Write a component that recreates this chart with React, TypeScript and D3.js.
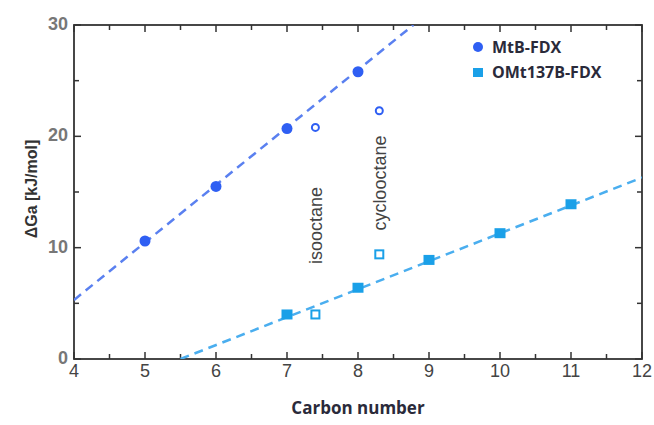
import React from "react";
import * as d3 from "d3";

const xTicks = [4, 5, 6, 7, 8, 9, 10, 11, 12];
const yTicks = [0, 10, 20, 30];

const mtbX = [5, 6, 7, 8];
const mtbY = [10.6, 15.5, 20.7, 25.8];
const mtbOpenX = [7.4, 8.3];
const mtbOpenY = [20.8, 22.3];
const mtbLine = [[4, 5.3], [8.78, 30]];

const omtX = [7, 8, 9, 10, 11];
const omtY = [4.0, 6.4, 8.9, 11.3, 13.9];
const omtOpenX = [7.4, 8.3];
const omtOpenY = [4.0, 9.4];
const omtLine = [[5.5, 0], [12, 16.3]];

const annotations = [
  { text: "isooctane", x: 7.4, y: 12.0 },
  { text: "cyclooctane", x: 8.3, y: 15.8 },
];

const blue = "#2f5ff3";
const blueLine = "#5a80f0";
const cyan = "#1aa0e8";
const cyanLine = "#4aaeef";

export default function App() {
  const W = 654, H = 425;
  const L = 74, R = 642, T = 25, B = 359;
  const x = d3.scaleLinear().domain([4, 12]).range([L, R]);
  const y = d3.scaleLinear().domain([0, 30]).range([B, T]);
  const line = d3.line<number[]>().x((d) => x(d[0])).y((d) => y(d[1]));
  const minorX = d3.range(4, 12.01, 0.5);
  const minorY = d3.range(0, 30.01, 5);
  const axisColor = "#333";
  const font = "Liberation Sans, Arial, sans-serif";

  return (
    <svg width={W} height={H} style={{ position: "absolute", left: 0, top: 0, background: "#fff" }}>
      <defs>
        <clipPath id="plot">
          <rect x={L} y={T} width={R - L} height={B - T} />
        </clipPath>
      </defs>
      <rect x={0} y={0} width={W} height={H} fill="#fff" />
      {minorX.map((v, i) => {
        const len = Number.isInteger(v) ? 7 : 5;
        return (
          <g key={"tx" + i} stroke={axisColor} strokeWidth={1.5}>
            <line x1={x(v)} x2={x(v)} y1={B} y2={B - len} />
            <line x1={x(v)} x2={x(v)} y1={T} y2={T + len} />
          </g>
        );
      })}
      {minorY.map((v, i) => {
        const len = v % 10 === 0 ? 7 : 5;
        return (
          <g key={"ty" + i} stroke={axisColor} strokeWidth={1.5}>
            <line x1={L} x2={L + len} y1={y(v)} y2={y(v)} />
            <line x1={R} x2={R - len} y1={y(v)} y2={y(v)} />
          </g>
        );
      })}
      <rect x={L} y={T} width={R - L} height={B - T} fill="none" stroke={axisColor} strokeWidth={1.8} />
      {xTicks.map((v) => (
        <text key={"xl" + v} x={x(v)} y={B + 18} textAnchor="middle" fontFamily={font} fontSize={18} fill="#444">
          {v}
        </text>
      ))}
      {yTicks.map((v) => (
        <text key={"yl" + v} x={L - 6} y={y(v) + 5} textAnchor="end" fontFamily={font} fontSize={18} fontWeight="bold" fill="#777">
          {v}
        </text>
      ))}
      <g clipPath="url(#plot)">
        <path d={line(mtbLine) || ""} stroke={blueLine} strokeWidth={2.5} strokeDasharray="9,6" fill="none" />
        <path d={line(omtLine) || ""} stroke={cyanLine} strokeWidth={2.5} strokeDasharray="9,6" fill="none" />
      </g>
      {mtbX.map((v, i) => (
        <circle key={"mc" + i} cx={x(v)} cy={y(mtbY[i])} r={5.5} fill={blue} />
      ))}
      {mtbOpenX.map((v, i) => (
        <circle key={"mo" + i} cx={x(v)} cy={y(mtbOpenY[i])} r={3.5} fill="#fff" stroke={blue} strokeWidth={2} />
      ))}
      {omtX.map((v, i) => (
        <rect key={"os" + i} x={x(v) - 5.5} y={y(omtY[i]) - 5} width={11} height={10} fill={cyan} />
      ))}
      {omtOpenX.map((v, i) => (
        <rect key={"oo" + i} x={x(v) - 4} y={y(omtOpenY[i]) - 4} width={8} height={8} fill="#fff" stroke={cyan} strokeWidth={2} />
      ))}
      {annotations.map((a) => (
        <text
          key={a.text}
          transform={`translate(${x(a.x) + 7},${y(a.y)}) rotate(-90)`}
          textAnchor="middle"
          fontFamily={font}
          fontSize={18}
          fill="#444"
        >
          {a.text}
        </text>
      ))}
      <circle cx={478} cy={47} r={5} fill={blue} />
      <text x={492} y={53} fontFamily="Open Sans, sans-serif" fontSize={16} fontWeight="bold" fill="#2a2a3a">MtB-FDX</text>
      <rect x={473} y={68} width={10} height={9} fill={cyan} />
      <text x={492} y={78} fontFamily="Open Sans, sans-serif" fontSize={16} fontWeight="bold" fill="#2a2a3a">OMt137B-FDX</text>
      <text x={(L + R) / 2} y={414} textAnchor="middle" fontFamily="Open Sans, sans-serif" fontSize={17} fontWeight="bold" fill="#2a2a3a">
        Carbon number
      </text>
      <text transform={`translate(37,${(T + B) / 2 - 3}) rotate(-90)`} textAnchor="middle" fontFamily={font} fontSize={16} fontWeight="bold" fill="#333">
        ΔGa [kJ/mol]
      </text>
    </svg>
  );
}
